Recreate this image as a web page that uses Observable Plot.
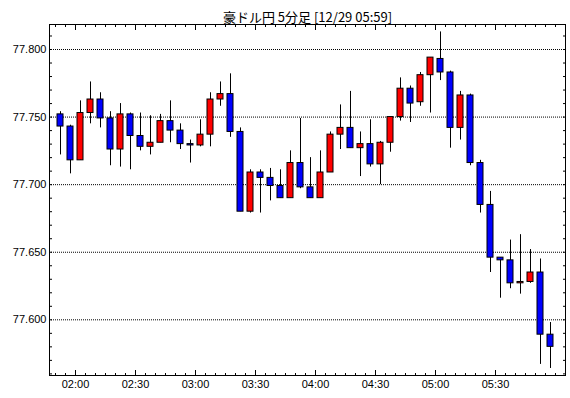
<!DOCTYPE html>
<html><head><meta charset="utf-8">
<script src="https://cdn.jsdelivr.net/npm/d3@7"></script>
<script src="https://cdn.jsdelivr.net/npm/@observablehq/plot@0.6"></script>
<style>body{margin:0;background:#fff}</style>
</head><body><div id="chart"></div>
<script>
const title = "豪ドル円 5分足 [12/29 05:59]";
const times = ["01:50","01:55","02:00","02:05","02:10","02:15","02:20","02:25","02:30","02:35",
  "02:40","02:45","02:50","02:55","03:00","03:05","03:10","03:15","03:20","03:25",
  "03:30","03:35","03:40","03:45","03:50","03:55","04:00","04:05","04:10","04:15",
  "04:20","04:25","04:30","04:35","04:40","04:45","04:50","04:55","05:00","05:05",
  "05:10","05:15","05:20","05:25","05:30","05:35","05:40","05:45","05:50","05:55"];
const open = [77.752, 77.743, 77.718, 77.753, 77.763, 77.749, 77.726, 77.752, 77.736, 77.728,
  77.731, 77.747, 77.740, 77.730, 77.729, 77.737, 77.763, 77.767, 77.739, 77.680,
  77.709, 77.705, 77.699, 77.690, 77.716, 77.698, 77.690, 77.709, 77.737, 77.742,
  77.727, 77.730, 77.715, 77.731, 77.750, 77.771, 77.761, 77.781, 77.793, 77.783,
  77.742, 77.766, 77.716, 77.685, 77.646, 77.644, 77.627, 77.628, 77.635, 77.589];
const high = [77.754, 77.744, 77.762, 77.776, 77.768, 77.754, 77.760, 77.753, 77.753, 77.751,
  77.752, 77.762, 77.745, 77.733, 77.748, 77.768, 77.776, 77.782, 77.742, 77.711,
  77.711, 77.712, 77.711, 77.725, 77.749, 77.720, 77.725, 77.739, 77.759, 77.769,
  77.739, 77.748, 77.732, 77.750, 77.779, 77.773, 77.783, 77.794, 77.813, 77.784,
  77.769, 77.767, 77.718, 77.695, 77.646, 77.659, 77.663, 77.652, 77.645, 77.598];
const low = [77.722, 77.708, 77.718, 77.745, 77.742, 77.714, 77.713, 77.711, 77.725, 77.722,
  77.731, 77.731, 77.726, 77.716, 77.728, 77.728, 77.758, 77.735, 77.680, 77.679,
  77.679, 77.688, 77.690, 77.690, 77.697, 77.690, 77.690, 77.709, 77.726, 77.727,
  77.706, 77.713, 77.700, 77.724, 77.747, 77.746, 77.758, 77.753, 77.777, 77.727,
  77.733, 77.714, 77.679, 77.635, 77.616, 77.623, 77.619, 77.627, 77.567, 77.564];
const close = [77.743, 77.718, 77.753, 77.763, 77.749, 77.726, 77.752, 77.736, 77.728, 77.731,
  77.747, 77.740, 77.730, 77.729, 77.737, 77.763, 77.767, 77.739, 77.680, 77.709,
  77.705, 77.699, 77.690, 77.716, 77.698, 77.690, 77.709, 77.737, 77.742, 77.727,
  77.730, 77.715, 77.731, 77.750, 77.771, 77.760, 77.781, 77.794, 77.783, 77.742,
  77.766, 77.716, 77.685, 77.646, 77.644, 77.627, 77.628, 77.635, 77.589, 77.580];
const xTickLabels = ["02:00","02:30","03:00","03:30","04:00","04:30","05:00","05:30"];
const yTickValues = [77.600, 77.650, 77.700, 77.750, 77.800];

const toMin = s => { const [h, m] = s.split(":").map(Number); return h * 60 + m; };
const candles = times.map((t, i) => ({t: toMin(t), o: open[i], h: high[i], l: low[i], c: close[i]}));
const xMajor = xTickLabels.map(toMin);
const xMinor = d3.range(110, 365, 5);
const yMinor = d3.range(7756, 7782).map(d => d / 100);
const pad = d3.format("02");
const fmtTime = m => pad(Math.floor(m / 60)) + ":" + pad(m % 60);
const blank = () => "";

const chart = Plot.plot({
  width: 570, height: 398,
  marginLeft: 49, marginRight: 5, marginTop: 24, marginBottom: 23,
  style: {fontFamily: "'Liberation Sans', Arial, sans-serif", fontSize: "11px", color: "black", background: "white"},
  x: {type: "linear", domain: [107, 365]},
  y: {domain: [77.5588, 77.8185]},
  color: {type: "identity"},
  marks: [
    Plot.gridY(yTickValues, {stroke: "black", strokeOpacity: 1, strokeDasharray: "1,1"}),
    Plot.frame({stroke: "black"}),
    Plot.axisY(yMinor, {anchor: "left", tickSize: -3, tickFormat: blank, label: null}),
    Plot.axisY(yMinor, {anchor: "right", tickSize: -3, tickFormat: blank, label: null}),
    Plot.axisY(yTickValues, {anchor: "left", tickSize: 0, tickPadding: 3, tickFormat: d3.format(".3f"), label: null}),
    Plot.axisX(xMinor, {anchor: "bottom", tickSize: -2, tickFormat: blank, label: null}),
    Plot.axisX(xMajor, {anchor: "bottom", tickSize: -5, tickFormat: blank, label: null}),
    Plot.axisX(xMinor, {anchor: "top", tickSize: -2, tickFormat: blank, label: null}),
    Plot.axisX(xMajor, {anchor: "top", tickSize: -5, tickFormat: blank, label: null}),
    Plot.axisX(xMajor, {anchor: "bottom", tickSize: 0, tickPadding: 5, tickFormat: fmtTime, label: null}),
    Plot.ruleX(candles, {x: d => d.t + 2.5, y1: "l", y2: "h", stroke: "black"}),
    Plot.rect(candles, {x1: "t", x2: d => d.t + 5, y1: "o", y2: "c", insetLeft: 2, insetRight: 2,
      fill: d => d.c >= d.o ? "#ff0000" : "#0000ff", stroke: "black"}),
    Plot.text([title], {text: d => d, frameAnchor: "top", dy: -12, fontSize: 13,
      fontFamily: "'Noto Sans CJK JP', sans-serif"})
  ]
});
document.getElementById("chart").append(chart);
</script>
</body></html>
